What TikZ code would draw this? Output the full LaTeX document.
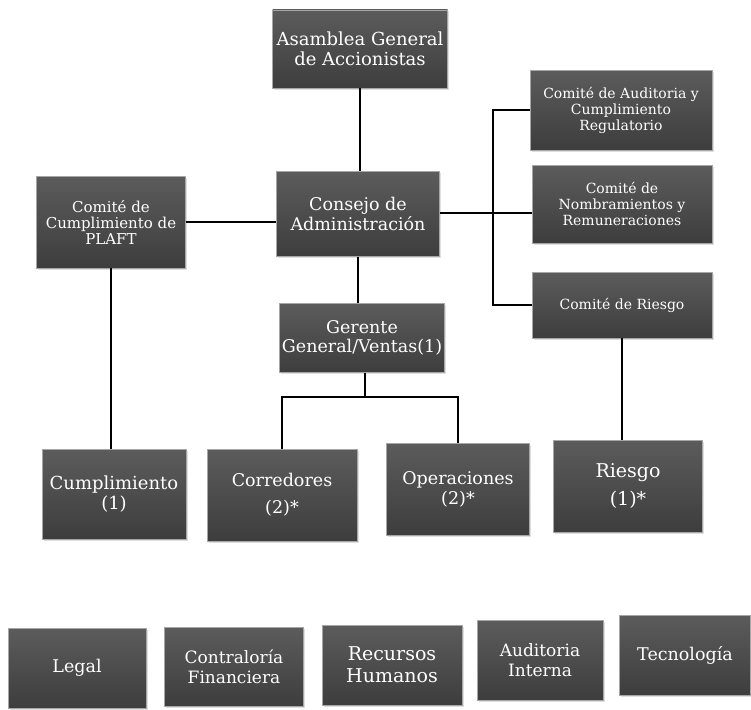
\documentclass[tikz,border=0pt]{standalone}
\usepackage{fontspec}
\setmainfont{DejaVu Serif}
\usetikzlibrary{shadows}
\tikzset{
  unit/.style={draw=black!35, line width=0.8pt, top color=black!64, bottom color=black!76,
    text=white, align=center, inner sep=1pt, drop shadow={shadow xshift=1.5pt, shadow yshift=-1.5pt, opacity=0.25}},
  link/.style={line width=1.4pt, black}
}
\begin{document}
\begin{tikzpicture}[x=1pt,y=-1pt]
  \useasboundingbox (0,0) rectangle (751,709);
  % top levels
  \node[unit, minimum width=175, minimum height=78, font=\fontsize{18}{20}\selectfont] (asam) at (360,49) {Asamblea General\\de Accionistas};
  \node[unit, minimum width=163, minimum height=85, font=\fontsize{17.5}{20}\selectfont] (cons) at (358,214) {Consejo de\\Administración};
  \node[unit, minimum width=165, minimum height=69, font=\fontsize{17.5}{19}\selectfont] (gere) at (362,338) {Gerente\\General/Ventas(1)};
  % comites
  \node[unit, minimum width=149, minimum height=92, font=\fontsize{15}{16}\selectfont] (plaft) at (111,222) {Comité de\\Cumplimiento de\\PLAFT};
  \node[unit, minimum width=182, minimum height=80, font=\fontsize{14}{16}\selectfont] (audi) at (621,110) {Comité de Auditoria y\\Cumplimiento\\Regulatorio};
  \node[unit, minimum width=180, minimum height=78, font=\fontsize{14}{16}\selectfont] (nomb) at (622,204) {Comité de\\Nombramientos y\\Remuneraciones};
  \node[unit, minimum width=180, minimum height=66, font=\fontsize{14}{16}\selectfont] (crie) at (622,305) {Comité de Riesgo};
  % areas
  \node[unit, minimum width=144, minimum height=90, font=\fontsize{18}{20}\selectfont] (cump) at (114,494) {Cumplimiento\\(1)};
  \node[unit, minimum width=150, minimum height=92, font=\fontsize{17.5}{27}\selectfont] (corr) at (282,495) {Corredores\\(2)*};
  \node[unit, minimum width=143, minimum height=92, font=\fontsize{17.5}{20}\selectfont] (oper) at (458,489) {Operaciones\\(2)*};
  \node[unit, minimum width=149, minimum height=92, font=\fontsize{19}{28}\selectfont] (ries) at (628,486) {Riesgo\\(1)*};
  % apoyo
  \node[unit, minimum width=138, minimum height=80, font=\fontsize{17.5}{20}\selectfont] (lega) at (77,668) {Legal};
  \node[unit, minimum width=139, minimum height=79, font=\fontsize{17}{20}\selectfont] (cont) at (234,667) {Contraloría\\Financiera};
  \node[unit, minimum width=140, minimum height=80, font=\fontsize{19}{22}\selectfont] (recu) at (392,665) {Recursos\\Humanos};
  \node[unit, minimum width=126, minimum height=80, font=\fontsize{17}{20}\selectfont] (audt) at (540,660) {Auditoria\\Interna};
  \node[unit, minimum width=131, minimum height=80, font=\fontsize{17.5}{20}\selectfont] (tecn) at (685,655) {Tecnología};
  % lineas
  \coordinate (bus) at (493,213);
  \coordinate (rama) at (365,397);
  \draw[link] (asam.south) -- (asam.south |- cons.north);
  \draw[link] (cons.south) -- (cons.south |- gere.north);
  \draw[link] (plaft.east) -- (plaft.east -| cons.west);
  \draw[link] (plaft) -- (plaft |- cump.north);
  \draw[link] (bus -| cons.east) -- (bus -| nomb.west);
  \draw[link] (audi.west) -| (bus) |- (crie.west);
  \draw[link] (gere.south -| rama) -- (rama);
  \draw[link] (corr.north) |- (rama) -| (oper.north);
  \draw[link] (crie.south) -- (crie.south |- ries.north);
\end{tikzpicture}
\end{document}
